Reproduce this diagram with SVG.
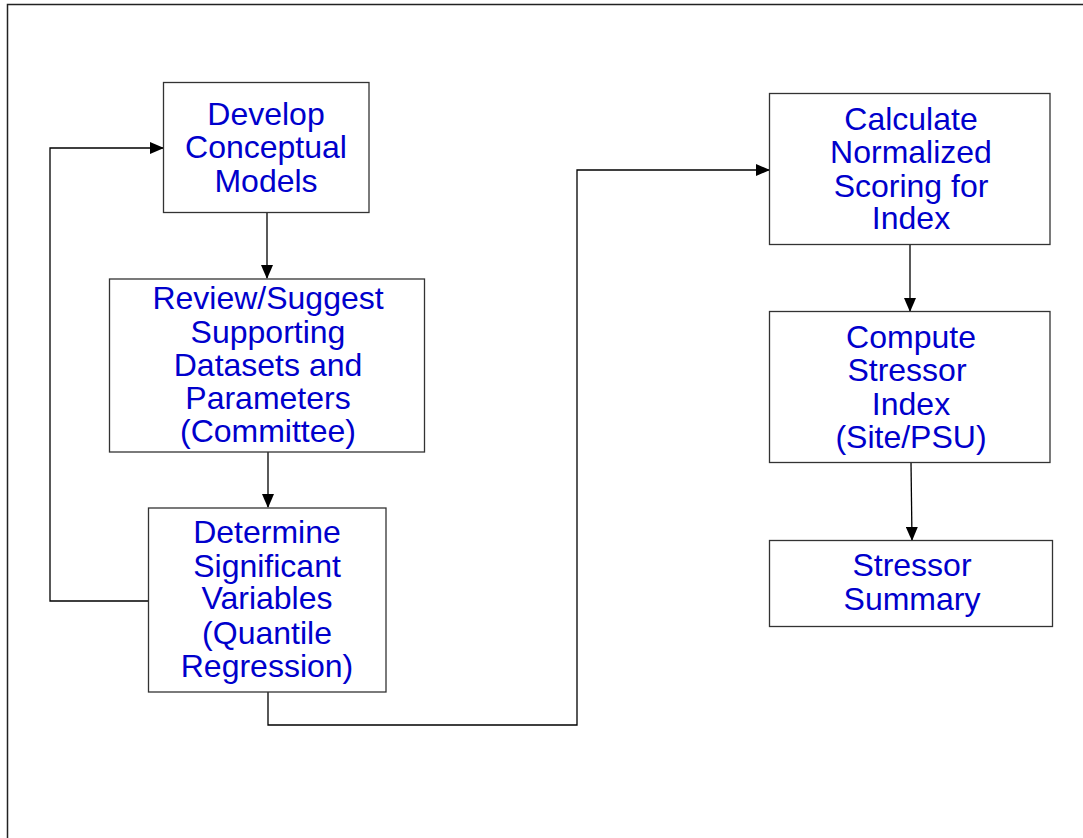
<svg xmlns="http://www.w3.org/2000/svg" width="1083" height="838" viewBox="0 0 1083 838">
<defs>
<style>
.box{fill:#fff;stroke:#333;stroke-width:1.3}
.lbl{font-family:"Liberation Sans",Arial,sans-serif;font-size:32px;fill:#0000CC;text-anchor:middle}
.con{fill:none;stroke:#000;stroke-width:1.3}
</style>
<marker id="ah" markerWidth="14" markerHeight="12" refX="13" refY="6" orient="auto" markerUnits="userSpaceOnUse">
<path d="M0,0 L14,6 L0,12 Z" fill="#000"/>
</marker>
</defs>
<rect x="0" y="0" width="1083" height="838" fill="#fff"/>
<rect id="frame" x="7.5" y="4.5" width="1200" height="1000" fill="none" stroke="#222" stroke-width="1.5"/>
<g id="connectors">
<path class="con" d="M267,212 V278" marker-end="url(#ah)"/>
<path class="con" d="M268,452 V507" marker-end="url(#ah)"/>
<path class="con" d="M148,601 H50 V148 H163" marker-end="url(#ah)"/>
<path class="con" d="M268,692 V725 H577 V170 H769" marker-end="url(#ah)"/>
<path class="con" d="M910,244 V311" marker-end="url(#ah)"/>
<path class="con" d="M911,462 L912,540" marker-end="url(#ah)"/>
</g>
<g id="develop">
<rect class="box" x="163.5" y="82.5" width="205.5" height="130"/>
<text class="lbl"><tspan x="266" y="125">Develop</tspan><tspan x="266" y="158">Conceptual</tspan><tspan x="266" y="192">Models</tspan></text>
</g>
<g id="review">
<rect class="box" x="109.5" y="279" width="315" height="173"/>
<text class="lbl"><tspan x="268" y="309">Review/Suggest</tspan><tspan x="268" y="343">Supporting</tspan><tspan x="268" y="376">Datasets and</tspan><tspan x="268" y="409">Parameters</tspan><tspan x="268" y="442">(Committee)</tspan></text>
</g>
<g id="determine">
<rect class="box" x="148.5" y="508" width="237.5" height="184"/>
<text class="lbl"><tspan x="267" y="543">Determine</tspan><tspan x="267" y="577">Significant</tspan><tspan x="267" y="609">Variables</tspan><tspan x="267" y="644">(Quantile</tspan><tspan x="267" y="677">Regression)</tspan></text>
</g>
<g id="calculate">
<rect class="box" x="769.5" y="93.5" width="280.5" height="151"/>
<text class="lbl"><tspan x="911" y="130">Calculate</tspan><tspan x="911" y="163">Normalized</tspan><tspan x="911" y="197">Scoring for</tspan><tspan x="911" y="229">Index</tspan></text>
</g>
<g id="compute">
<rect class="box" x="769.5" y="311.5" width="280.5" height="151"/>
<text class="lbl"><tspan x="911" y="348">Compute</tspan><tspan x="907" y="381">Stressor</tspan><tspan x="911" y="415">Index</tspan><tspan x="911" y="448">(Site/PSU)</tspan></text>
</g>
<g id="summary">
<rect class="box" x="769.5" y="540.5" width="283" height="86"/>
<text class="lbl"><tspan x="912" y="576">Stressor</tspan><tspan x="912" y="610">Summary</tspan></text>
</g>
</svg>
